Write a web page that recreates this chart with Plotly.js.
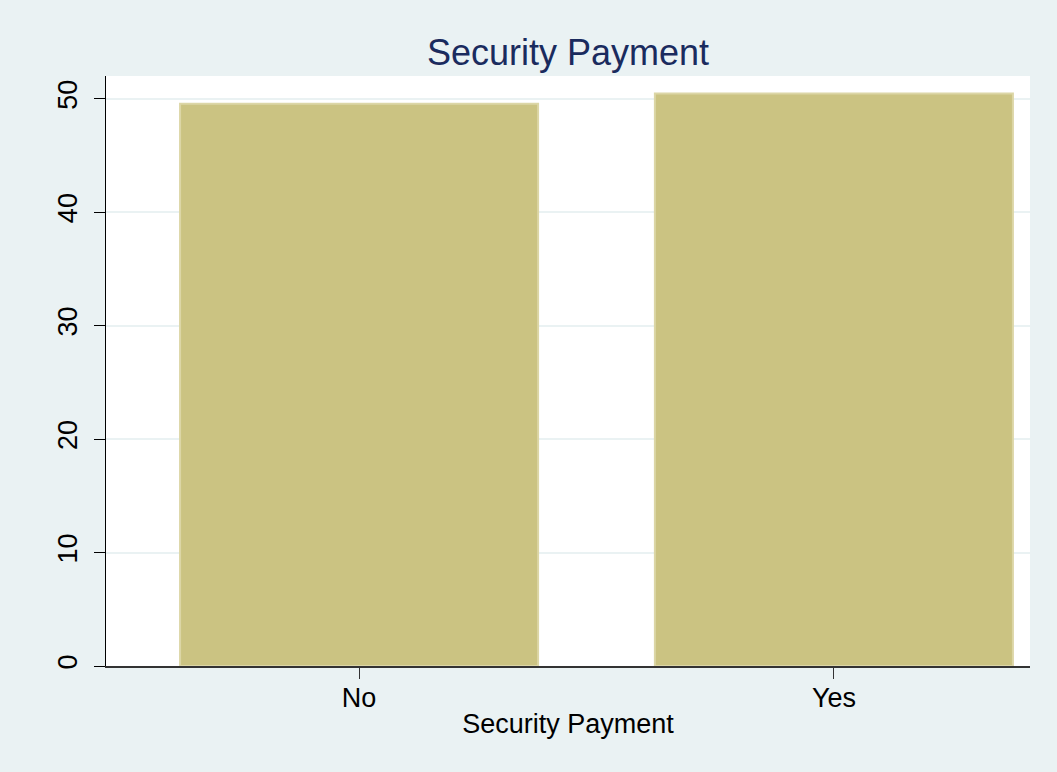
<!DOCTYPE html>
<html><head><meta charset="utf-8">
<script src="https://cdn.plot.ly/plotly-3.0.1.min.js"></script>
<style>html,body{margin:0;padding:0;background:#eaf2f3;}</style>
</head><body>
<div id="chart" style="width:1057px;height:772px;"></div>
<script>
const categories = ["No", "Yes"];
const positions = [0, 1];
const values = [49.55, 50.45];
const yTicks = [0, 10, 20, 30, 40, 50];

const trace = {
  type: 'bar',
  x: positions,
  y: values,
  width: 0.754,
  marker: {color: '#cbc382', line: {color: '#dcd6a6', width: 2}},
  hoverinfo: 'x+y'
};
const layout = {
  width: 1057, height: 772,
  paper_bgcolor: '#eaf2f3',
  plot_bgcolor: '#ffffff',
  margin: {l: 106, r: 27, t: 76, b: 106},
  showlegend: false,
  font: {family: 'Liberation Sans, Arial, sans-serif', color: '#000'},
  title: {text: 'Security Payment', font: {size: 36, color: '#1a2b5e'},
          x: 0.5, xref: 'paper', y: 1 - 52/772, yref: 'container', yanchor: 'middle'},
  xaxis: {
    range: [-0.533, 1.413],
    tickvals: positions, ticktext: categories,
    ticks: 'outside', ticklen: 11, tickcolor: '#333',
    showline: true, linecolor: '#333', linewidth: 1.5,
    showgrid: false, zeroline: false,
    ticklabelstandoff: -4,
    tickfont: {size: 27},
    title: {text: 'Security Payment', font: {size: 27}, standoff: 2}
  },
  yaxis: {
    range: [0, 52],
    tickvals: yTicks,
    ticks: 'outside', ticklen: 11, tickcolor: '#000',
    showline: true, linecolor: '#000', linewidth: 1,
    showgrid: true, gridcolor: '#eaf2f3', gridwidth: 2,
    zeroline: false,
    tickangle: -90,
    ticklabelstandoff: 6,
    tickfont: {size: 27}
  },
  bargap: 0
};
Plotly.newPlot('chart', [trace], layout, {displayModeBar: false, staticPlot: true});
</script>
</body></html>
